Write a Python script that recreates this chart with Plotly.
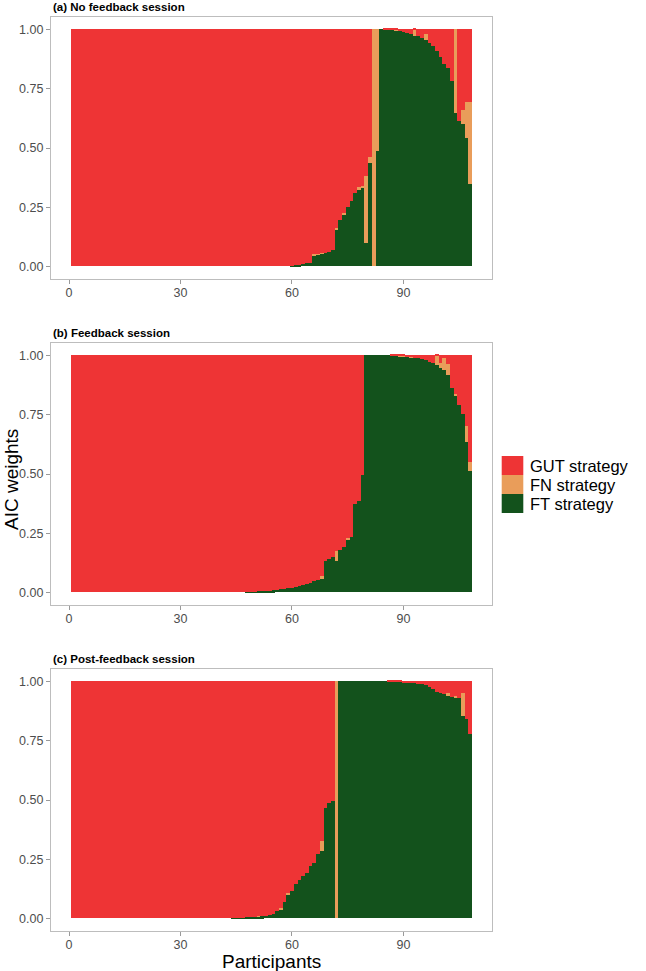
import plotly.graph_objects as go

# ---------------- data ----------------
participants = list(range(1, 109))

# (a) No feedback session
ft_a = [0.0] * 59 + [
    0.003, 0.004, 0.005, 0.011, 0.013, 0.016, 0.047, 0.049, 0.052, 0.058,
    0.062, 0.068, 0.155, 0.195, 0.22, 0.248, 0.275, 0.31, 0.322, 0.33,
    0.10, 0.435, 0.0, 0.485, 1.0, 0.999, 0.998, 0.996, 0.993, 0.99,
    0.986, 0.981, 0.977, 0.972, 0.968, 0.962, 0.955, 0.94, 0.926, 0.905,
    0.883, 0.85, 0.836, 0.78, 0.645, 0.61, 0.6, 0.54, 0.345]
fn_a_ids = [66, 67, 68, 72, 74, 78, 79, 80, 81, 82, 83, 88, 93, 96, 104, 106, 107, 108]
fn_a_vals = [0.004, 0.004, 0.004, 0.006, 0.005, 0.01, 0.008, 0.28, 0.025, 1.0, 0.515,
             0.005, 0.024, 0.022, 0.355, 0.06, 0.15, 0.345]

# (b) Feedback session
ft_b = [0.0] * 47 + [
    0.001, 0.002, 0.003, 0.004, 0.005, 0.006, 0.007, 0.008, 0.01, 0.012,
    0.015, 0.018, 0.02, 0.022, 0.026, 0.03, 0.035, 0.04, 0.048, 0.054,
    0.06, 0.13, 0.142, 0.15, 0.13, 0.18, 0.19, 0.222, 0.232, 0.37,
    0.384, 0.496, 1.0, 1.0, 1.0, 1.0, 1.0, 1.0, 1.0, 0.999,
    0.998, 0.995, 0.993, 0.991, 0.989, 0.987, 0.985, 0.982, 0.978, 0.972,
    0.965, 0.957, 0.945, 0.935, 0.915, 0.86, 0.825, 0.79, 0.75, 0.632, 0.51]
fn_b_ids = [68, 72, 75, 89, 90, 92, 99, 100, 101, 102, 104, 107, 108]
fn_b_vals = [0.008, 0.045, 0.005, 0.004, 0.004, 0.005, 0.04, 0.02, 0.05, 0.045, 0.012, 0.07, 0.04]

# (c) Post-feedback session
ft_c = [0.0] * 43 + [
    0.001, 0.002, 0.002, 0.003, 0.004, 0.005, 0.006, 0.007, 0.008, 0.009,
    0.014, 0.017, 0.032, 0.037, 0.07, 0.098, 0.114, 0.145, 0.16, 0.178,
    0.19, 0.22, 0.234, 0.27, 0.283, 0.465, 0.486, 0.493, 0.0, 1.0,
    1.0, 1.0, 1.0, 1.0, 1.0, 1.0, 1.0, 1.0, 1.0, 1.0,
    1.0, 1.0, 0.999, 0.998, 0.997, 0.996, 0.995, 0.994, 0.992, 0.99,
    0.988, 0.985, 0.982, 0.975, 0.966, 0.955, 0.948, 0.945, 0.94, 0.934,
    0.93, 0.926, 0.85, 0.84, 0.775]
fn_c_ids = [51, 57, 59, 68, 72, 102, 104, 106]
fn_c_vals = [0.003, 0.006, 0.01, 0.042, 1.0, 0.008, 0.006, 0.1]

panel_titles = ["(a) No feedback session", "(b) Feedback session", "(c) Post-feedback session"]
strategies = ["GUT strategy", "FN strategy", "FT strategy"]
x_ticks = [0, 30, 60, 90]
y_ticks = [0, 0.25, 0.5, 0.75, 1.0]
y_ticktext = ["0.00", "0.25", "0.50", "0.75", "1.00"]

# ---------------- style ----------------
COL = {"GUT strategy": "#EE3435", "FN strategy": "#E99D5A", "FT strategy": "#13521C"}
FONT = "Liberation Sans, Arial, Helvetica, sans-serif"
W, H = 646, 971
L, R = 51, 492
PANEL_TOPS = [17.4, 343.4, 669.4]
PANEL_H = 261.2


def py(y):
    return 1 - y / H


def px(x):
    return (x - L) / (R - L)


def expand(ids, vals):
    out = [0.0] * len(participants)
    for i, v in zip(ids, vals):
        out[i - 1] = v
    return out


panels = [(ft_a, expand(fn_a_ids, fn_a_vals)),
          (ft_b, expand(fn_b_ids, fn_b_vals)),
          (ft_c, expand(fn_c_ids, fn_c_vals))]

fig = go.Figure()
for k, (ft, fn) in enumerate(panels):
    gut = [round(max(0.0, 1.0 - a - b), 4) for a, b in zip(ft, fn)]
    xa = "x" if k == 0 else f"x{k+1}"
    ya = "y" if k == 0 else f"y{k+1}"
    for name, vals in (("FT strategy", ft), ("FN strategy", fn), ("GUT strategy", gut)):
        fig.add_trace(go.Bar(x=participants, y=vals, name=name, xaxis=xa, yaxis=ya,
                             marker=dict(color=COL[name], line=dict(width=0)),
                             width=1.0, showlegend=False))

axis_common = dict(showgrid=False, zeroline=False, showline=True, mirror=True,
                   linecolor="#BDBDBD", linewidth=1.3, ticks="outside", ticklen=4,
                   tickwidth=1, tickcolor="#9A9A9A",
                   tickfont=dict(family=FONT, size=12.5, color="#4D4D4D"))

layout = dict(width=W, height=H, barmode="stack", bargap=0,
              margin=dict(l=L, r=W - R, t=0, b=0, autoexpand=False),
              paper_bgcolor="white", plot_bgcolor="white",
              font=dict(family=FONT), showlegend=False)
for k in range(3):
    top = PANEL_TOPS[k]
    bot = top + PANEL_H
    sx = "" if k == 0 else str(k + 1)
    layout[f"xaxis{sx}"] = dict(axis_common, domain=[0, 1], anchor=f"y{sx}",
                                range=[-4.85, 113.85], tickvals=x_ticks,
                                ticklabelstandoff=-2)
    layout[f"yaxis{sx}"] = dict(axis_common, domain=[py(bot), py(top)], anchor=f"x{sx}",
                                range=[-0.05, 1.05], tickvals=y_ticks, ticktext=y_ticktext)
fig.update_layout(**layout)

ann = []
for k, t in enumerate(panel_titles):
    ann.append(dict(text=f"<b>{t}</b>", x=0, y=py(PANEL_TOPS[k] - 10.6), xref="paper", yref="paper",
                    xanchor="left", yanchor="middle", showarrow=False,
                    font=dict(family=FONT, size=11.5, color="black")))
ann.append(dict(text="AIC weights", x=px(11), y=py(480), xref="paper", yref="paper",
                textangle=-90, showarrow=False, xanchor="center", yanchor="middle",
                font=dict(family=FONT, size=19, color="black")))
ann.append(dict(text="Participants", x=px(271.5), y=py(961), xref="paper", yref="paper",
                showarrow=False, xanchor="center", yanchor="middle", borderpad=0,
                font=dict(family=FONT, size=19, color="black")))

# legend drawn by hand
shapes = []
key_top = 456.0
key_h = 19.0
for j, s in enumerate(strategies):
    y0 = key_top + j * key_h
    shapes.append(dict(type="rect", xref="paper", yref="paper",
                       x0=px(501.7), x1=px(523.3), y0=py(y0 + key_h), y1=py(y0),
                       fillcolor=COL[s], line=dict(width=0)))
    ann.append(dict(text=s, x=px(529), y=py(y0 + key_h / 2 + 0.5), xref="paper", yref="paper",
                    showarrow=False, xanchor="left", yanchor="middle", borderpad=0,
                    font=dict(family=FONT, size=16.5, color="black")))

fig.update_layout(annotations=ann, shapes=shapes)
fig.write_html("out.html")
